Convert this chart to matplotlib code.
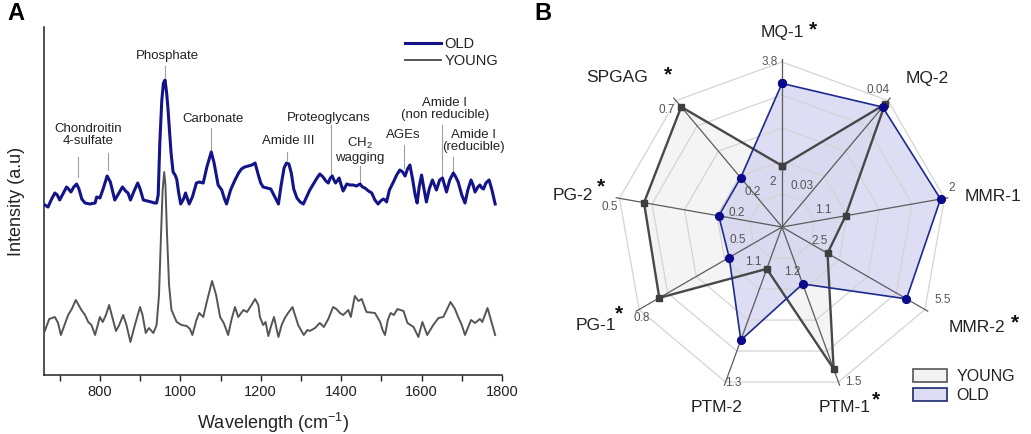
import numpy as np
import matplotlib
matplotlib.use('Agg')
import matplotlib.pyplot as plt
from matplotlib.patches import Patch
from matplotlib.lines import Line2D

plt.rcParams['font.family'] = ['Liberation Sans', 'DejaVu Sans']
plt.rcParams['mathtext.fontset'] = 'custom'
plt.rcParams['mathtext.rm'] = 'Liberation Sans'
plt.rcParams['mathtext.it'] = 'Liberation Sans:italic'
plt.rcParams['mathtext.bf'] = 'Liberation Sans:bold'

# ---------------- Panel A data (Raman spectra, arbitrary units) ----------------
old_wn = [663, 671, 680, 688, 694, 700, 708, 717, 722, 728,
          735, 742, 748, 755, 763, 775, 788, 792, 800, 808,
          818, 826, 837, 846, 856, 864, 870, 876, 885, 894,
          900, 908, 918, 928, 936, 941, 945, 949, 954, 958,
          962, 966, 969, 973, 977, 982, 987, 991, 996, 1001,
          1008, 1013, 1018, 1022, 1030, 1040, 1047, 1057, 1066, 1077,
          1084, 1094, 1103, 1110, 1115, 1125, 1136, 1145, 1152, 1160,
          1169, 1178, 1186, 1194, 1200, 1206, 1215, 1225, 1235, 1244,
          1250, 1258, 1264, 1270, 1276, 1282, 1290, 1298, 1306, 1314,
          1322, 1331, 1340, 1347, 1355, 1362, 1368, 1373, 1378, 1382,
          1386, 1390, 1395, 1400, 1405, 1410, 1414, 1422, 1430, 1438,
          1447, 1453, 1459, 1468, 1476, 1484, 1492, 1498, 1505, 1509,
          1513, 1520, 1530, 1538, 1546, 1553, 1559, 1565, 1571, 1578,
          1584, 1589, 1594, 1600, 1606, 1612, 1619, 1627, 1632, 1637,
          1645, 1652, 1657, 1662, 1670, 1679, 1685, 1691, 1700, 1708,
          1715, 1723, 1728, 1733, 1740, 1745, 1750, 1754, 1760, 1768,
          1775, 1783]
old_int = [170, 168, 176, 182, 180, 175, 181, 188, 186, 183,
           188, 191, 186, 176, 172, 171, 172, 178, 177, 186,
           199, 193, 175, 181, 188, 184, 182, 175, 184, 192,
           186, 175, 174, 173, 172, 172, 180, 232, 275, 292,
           295, 282, 268, 245, 222, 203, 200, 196, 182, 171,
           176, 182, 176, 171, 178, 192, 193, 192, 208, 223,
           212, 190, 185, 176, 171, 185, 195, 202, 206, 208,
           209, 210, 212, 200, 192, 188, 187, 186, 178, 171,
           188, 207, 212, 211, 202, 186, 177, 173, 171, 178,
           185, 191, 197, 201, 198, 194, 192, 197, 199, 195,
           192, 194, 197, 190, 184, 188, 191, 190, 190, 189,
           191, 188, 187, 184, 182, 175, 171, 174, 176, 175,
           173, 185, 193, 200, 205, 203, 199, 206, 210, 195,
           180, 172, 188, 200, 186, 173, 186, 195, 190, 185,
           195, 197, 190, 183, 195, 202, 198, 193, 180, 172,
           185, 195, 190, 183, 188, 190, 187, 186, 192, 195,
           185, 171]

young_wn = [663, 674, 688, 696, 703, 712, 721, 730, 740, 754,
            763, 771, 779, 788, 800, 807, 815, 823, 832, 840,
            848, 858, 866, 876, 887, 900, 906, 914, 922, 933,
            941, 947, 952, 956, 960, 963, 967, 972, 978, 991,
            1003, 1016, 1024, 1030, 1040, 1047, 1057, 1067, 1079, 1089,
            1099, 1108, 1119, 1127, 1136, 1144, 1157, 1166, 1177, 1186,
            1194, 1198, 1206, 1212, 1219, 1225, 1233, 1244, 1252, 1260,
            1268, 1279, 1293, 1307, 1316, 1322, 1335, 1347, 1357, 1368,
            1380, 1388, 1397, 1405, 1418, 1424, 1434, 1443, 1451, 1463,
            1484, 1497, 1503, 1509, 1516, 1523, 1531, 1540, 1555, 1565,
            1580, 1592, 1602, 1614, 1629, 1642, 1654, 1672, 1683, 1691,
            1700, 1708, 1723, 1733, 1745, 1751, 1764, 1783]
young_int = [44, 56, 58, 52, 40, 50, 60, 66, 75, 65,
             60, 53, 50, 40, 58, 53, 60, 70, 56, 44,
             50, 60, 50, 33, 50, 68, 60, 42, 47, 42,
             50, 80, 140, 185, 203, 190, 140, 90, 65, 53,
             50, 49, 46, 40, 55, 62, 58, 75, 94, 80,
             58, 52, 40, 55, 68, 58, 65, 63, 70, 76,
             70, 58, 50, 53, 39, 48, 58, 38, 50, 57,
             62, 68, 50, 40, 45, 44, 47, 52, 48, 56,
             68, 66, 62, 60, 65, 58, 79, 74, 76, 63,
             62, 53, 45, 40, 55, 62, 60, 66, 64, 52,
             48, 38, 53, 40, 50, 57, 58, 73, 66, 58,
             50, 40, 55, 52, 56, 53, 67, 40]

# Peak annotations: label, label x (cm-1), label y, leader x list, leader y ranges
peak_labels = ["Phosphate", "Chondroitin\n4-sulfate", "Carbonate", "Amide III",
               "Proteoglycans", "CH$_2$\nwagging", "AGEs",
               "Amide I\n(non reducible)", "Amide I\n(reducible)"]
label_x = [967, 770, 1081, 1268, 1370, 1447, 1554, 1658, 1728]
label_y = [319, 240, 256, 234, 257, 225, 240, 266, 234]
leader_x = [[962], [745, 820], [1076], [1265], [1375], [1447], [1556], [1651], [1678]]
leader_y = [[(298, 309)], [(198, 218), (205, 222)], [(225, 247)], [(215, 223)],
            [(200, 250)], [(192, 209)], [(207, 230)], [(198, 250)], [(203, 218)]]

x_major = [800, 1000, 1200, 1400, 1600, 1800]
x_minor = [700, 900, 1100, 1300, 1500, 1700]

# ---------------- Panel B data (radar) ----------------
categories = ['MQ-1', 'MQ-2', 'MMR-1', 'MMR-2', 'PTM-1', 'PTM-2', 'PG-1', 'PG-2', 'SPGAG']
starred = [True, False, False, True, True, False, True, True, True]
axis_min = [2, 0.03, 1.1, 2.5, 1.2, 1.1, 0.5, 0.2, 0.2]
axis_max = [3.8, 0.04, 2, 5.5, 1.5, 1.3, 0.8, 0.5, 0.7]
min_labels = ['2', '0.03', '1.1', '2.5', '1.2', '1.1', '0.5', '0.2', '0.2']
max_labels = ['3.8', '0.04', '2', '5.5', '1.5', '1.3', '0.8', '0.5', '0.7']
old_vals = [3.48, 0.0393, 1.97, 4.97, 1.24, 1.226, 0.541, 0.249, 0.282]
young_vals = [2.25, 0.0396, 1.25, 2.70, 1.465, 1.10, 0.742, 0.438, 0.666]

# ---------------- styling ----------------
W, H = 1031, 434
OLD_C = '#14148a'
YOUNG_C = '#555555'
TXT = '#222222'

fig = plt.figure(figsize=(W / 100, H / 100), dpi=100)

def fx(px):
    return px / W

def fy(py):
    return 1 - py / H

# ---------------- Panel A ----------------
ax = fig.add_axes([fx(44), 59 / H, 458 / W, 348 / H])
ax.plot(old_wn, old_int, color=OLD_C, lw=2.2, solid_joinstyle='round', zorder=3)
ax.plot(young_wn, young_int, color=YOUNG_C, lw=1.4, solid_joinstyle='round', zorder=3)
ax.set_xlim(661, 1800)
ax.set_ylim(0, 348)
ax.set_yticks([])
ax.set_xticks(x_major)
ax.set_xticks(x_minor, minor=True)
ax.tick_params(axis='x', which='both', direction='out', length=4, width=1,
               labelsize=10.5, colors='#222222', pad=3)
for s in ['top', 'right']:
    ax.spines[s].set_visible(False)
for s in ['left', 'bottom']:
    ax.spines[s].set_linewidth(1.1)
    ax.spines[s].set_color('#222222')
ax.set_xlabel('Wavelength (cm$^{-1}$)', fontsize=13, color=TXT, labelpad=9)
ax.set_ylabel('Intensity (a.u)', fontsize=13, color=TXT, labelpad=14)

for lab, lx, ly, lxs, lys in zip(peak_labels, label_x, label_y, leader_x, leader_y):
    ax.text(lx, ly, lab, ha='center', va='center', fontsize=9.5, color=TXT,
            linespacing=1.05)
    for xx, (y0, y1) in zip(lxs, lys):
        ax.plot([xx, xx], [y0, y1], color='#a0a0a0', lw=0.8, zorder=2)

leg_a = ax.legend(handles=[Line2D([], [], color=OLD_C, lw=2.2),
                           Line2D([], [], color=YOUNG_C, lw=1.4)],
                  labels=['OLD', 'YOUNG'], loc='upper left',
                  bbox_to_anchor=(fx(405), fy(37)), bbox_transform=fig.transFigure,
                  frameon=False, fontsize=10.5, handlelength=2.5, handletextpad=0.2,
                  labelspacing=0.2, borderpad=0, borderaxespad=0)
for t in leg_a.get_texts():
    t.set_color(TXT)

fig.text(fx(16), fy(14), 'A', fontsize=17, fontweight='bold', ha='center', va='center')
fig.text(fx(543), fy(14), 'B', fontsize=17, fontweight='bold', ha='center', va='center')

# ---------------- Panel B (radar) ----------------
cx, cy, R = 782, 227, 165
RL = 1.05
size = 2 * R * RL
rax = fig.add_axes([fx(cx - size / 2), (H - cy - size / 2) / H, size / W, size / H],
                   projection='polar')
rax.set_theta_zero_location('N')
rax.set_theta_direction(-1)
rax.set_ylim(0, RL)
rax.grid(False)
rax.set_xticks([])
rax.set_yticks([])
rax.spines['polar'].set_visible(False)
rax.patch.set_alpha(0)

n = len(categories)
theta = np.arange(n) * 2 * np.pi / n
theta_c = np.append(theta, theta[0])
r0 = 0.27

def to_r(vals):
    v = np.array(vals, dtype=float)
    lo = np.array(axis_min, dtype=float)
    hi = np.array(axis_max, dtype=float)
    return r0 + (1 - r0) * (v - lo) / (hi - lo)

r_old = to_r(old_vals)
r_young = to_r(young_vals)
r_old_c = np.append(r_old, r_old[0])
r_young_c = np.append(r_young, r_young[0])

# grid rings
for k in range(1, 6):
    rax.plot(theta_c, [0.2 * k] * (n + 1), color='#d4d4d4', lw=0.9, zorder=3)
# fills
rax.fill(theta_c, r_young_c, color='#f4f4f4', zorder=1, lw=0)
rax.fill(theta_c, r_old_c, color=(0.78, 0.78, 0.93), alpha=0.6, zorder=2, lw=0)
# spokes
for t in theta:
    rax.plot([t, t], [0, 1.02], color='#5c5c5c', lw=0.9, zorder=4, clip_on=False)
# series
rax.plot(theta_c, r_young_c, color='#484848', lw=1.7, marker='s', ms=4.6,
         mfc='#3f3f3f', mec='#3f3f3f', zorder=5, clip_on=False)
rax.plot(theta_c, r_old_c, color='#1c2a8c', lw=1.2, marker='o', ms=5.6,
         mfc='#0a0a8a', mec='#0a0a8a', zorder=6, clip_on=False)

# scale labels (pixel positions)
min_pos = [(773, 182), (802, 186), (823, 210), (820, 241), (792, 272),
           (753, 262), (738, 240), (737, 213), (753, 192)]
max_pos = [(770, 62), (878, 90), (952, 188), (943, 300), (853, 382),
           (733, 383), (642, 318), (610, 207), (667, 110)]
for lab, (px, py) in zip(min_labels, min_pos):
    fig.text(fx(px), fy(py), lab, fontsize=8.5, color='#555555', ha='center', va='center')
for lab, (px, py) in zip(max_labels, max_pos):
    fig.text(fx(px), fy(py), lab, fontsize=8.5, color='#555555', ha='center', va='center')

cat_pos = [(782, 33), (927, 78), (993, 196), (977, 327), (845, 407),
           (717, 407), (596, 325), (573, 195), (617, 78)]
star_pos = [(813, 30), None, None, (1015, 323), (876, 400),
            None, (619, 314), (601, 187), (668, 75)]
for lab, (px, py), st, sp in zip(categories, cat_pos, starred, star_pos):
    fig.text(fx(px), fy(py), lab, fontsize=12.5, color=TXT, ha='center', va='center')
    if st and sp is not None:
        fig.text(fx(sp[0]), fy(sp[1]), '*', fontsize=15, fontweight='bold',
                 color='#111111', ha='center', va='center')

leg_b = fig.legend(handles=[Patch(facecolor='#f2f2f2', edgecolor='#555555', lw=1.2),
                            Patch(facecolor='#dcdcf2', edgecolor='#1c2a6c', lw=1.2)],
                   labels=['YOUNG', 'OLD'], loc='upper left',
                   bbox_to_anchor=(fx(913), fy(369)), frameon=False, fontsize=11.5,
                   handlelength=2.1, handleheight=0.9, handletextpad=0.6,
                   labelspacing=0.22, borderpad=0, borderaxespad=0)
for t in leg_b.get_texts():
    t.set_color(TXT)

fig.savefig('out.png', dpi=100)
